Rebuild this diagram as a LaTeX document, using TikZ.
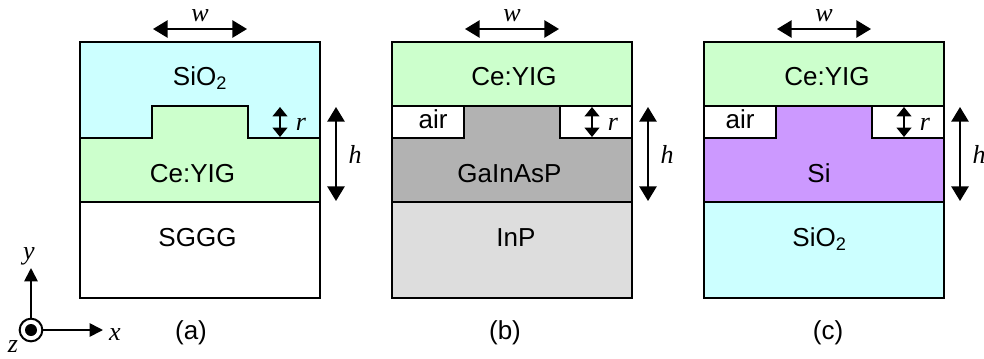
\documentclass[tikz,border=0pt]{standalone}
\usepackage{fontspec}
\setmainfont{Liberation Sans}
\newfontfamily\symfont{Liberation Serif}
\usetikzlibrary{arrows.meta}

\definecolor{oxidecol}{HTML}{CCFFFF}
\definecolor{yigcol}{HTML}{CCFFCC}
\definecolor{quatcol}{HTML}{B2B2B2}
\definecolor{inpcol}{HTML}{DDDDDD}
\definecolor{sicol}{HTML}{CC99FF}

\begin{document}
\begin{tikzpicture}[x=0.75pt,y=-0.75pt]
    \tikzstyle{layer}=[draw=black,line width=1.5pt,line join=miter]
    \tikzstyle{label}=[inner sep=0pt,anchor=base,font=\fontsize{19.5pt}{21pt}\selectfont]
    \tikzstyle{sym}=[inner sep=0pt,anchor=base,font=\fontsize{19.5pt}{21pt}\selectfont\symfont\itshape]
    \tikzstyle{dimbig}=[line width=1.3pt,{Triangle[length=11pt,width=13pt]}-{Triangle[length=11pt,width=13pt]}]
    \tikzstyle{dimsmall}=[line width=1.3pt,{Triangle[length=7pt,width=11pt]}-{Triangle[length=7pt,width=11pt]}]
    \tikzstyle{axis}=[line width=1.3pt,-{Triangle[length=10pt,width=10pt]}]
    \useasboundingbox (0,0) rectangle (984,358);

    % the three stacks, from the bottom layer up
    \foreach \pid/\ox/\lowcol/\midcol/\topcol/\gapcol in {a/80/white/yigcol/oxidecol/oxidecol, b/392/inpcol/quatcol/yigcol/white, c/704/oxidecol/sicol/yigcol/white}
    {
        \fill[\gapcol] (\ox,106) rectangle (\ox+240,138);
        \fill[\topcol] (\ox,42) rectangle (\ox+240,106);
        \draw[layer] (\ox,42) rectangle (\ox+240,138);
        \draw[layer,fill=\lowcol] (\ox,202) rectangle (\ox+240,298);
        \draw[layer,fill=\midcol] (\ox,138) -- (\ox+72,138) -- (\ox+72,106) -- (\ox+168,106) -- (\ox+168,138) -- (\ox+240,138) -- (\ox+240,202) -- (\ox,202) -- cycle;

        \coordinate (W1-\pid) at (\ox+73,29);
        \coordinate (W2-\pid) at (\ox+167,29);
        \coordinate (R1-\pid) at (\ox+200,107);
        \coordinate (R2-\pid) at (\ox+200,137);
        \coordinate (H1-\pid) at (\ox+256,107);
        \coordinate (H2-\pid) at (\ox+256,201);
        \draw[dimbig] (W1-\pid) -- (W2-\pid);
        \draw[dimsmall] (R1-\pid) -- (R2-\pid);
        \draw[dimbig] (H1-\pid) -- (H2-\pid);

        \node[sym] (w-\pid) at (\ox+120,21) {w};
        \node[sym] (r-\pid) at (\ox+221,130) {r};
        \node[sym] (h-\pid) at (\ox+275,163) {h};
    }
    \foreach \ox in {392,704}
        \draw[layer] (\ox,106) -- (\ox+240,106);

    % panel a
    \node[label] (A-top) at (200,85) {SiO\textsubscript{2}};
    \node[label] (A-mid) at (192.5,182) {Ce:YIG};
    \node[label] (A-low) at (197.5,246) {SGGG};
    \node[label] (A-tag) at (191,339) {(a)};

    % panel b
    \node[label] (B-top) at (514,85) {Ce:YIG};
    \node[label] (B-air) at (433,128) {air};
    \node[label] (B-mid) at (509.5,182) {GaInAsP};
    \node[label] (B-low) at (516,246) {InP};
    \node[label] (B-tag) at (505,339) {(b)};

    % panel c
    \node[label] (C-top) at (827,85) {Ce:YIG};
    \node[label] (C-air) at (740,128) {air};
    \node[label] (C-mid) at (819,182) {Si};
    \node[label] (C-low) at (819.5,246) {SiO\textsubscript{2}};
    \node[label] (C-tag) at (828,339) {(c)};

    % axes
    \node[circle,draw=black,line width=1.5pt,fill=white,minimum size=17pt,inner sep=0pt] (Z) at (31,330) {};
    \node[circle,fill=black,minimum size=9pt,inner sep=0pt] (Z-dot) at (31,330) {};
    \coordinate (Y-tip) at (31,268);
    \coordinate (X-tip) at (103,330);
    \draw[axis] (Z) -- (Y-tip);
    \draw[axis] (Z) -- (X-tip);
    \node[sym] (Y-label) at (29,259) {y};
    \node[sym] (X-label) at (115,340) {x};
    \node[sym] (Z-label) at (13,352) {z};
\end{tikzpicture}
\end{document}
